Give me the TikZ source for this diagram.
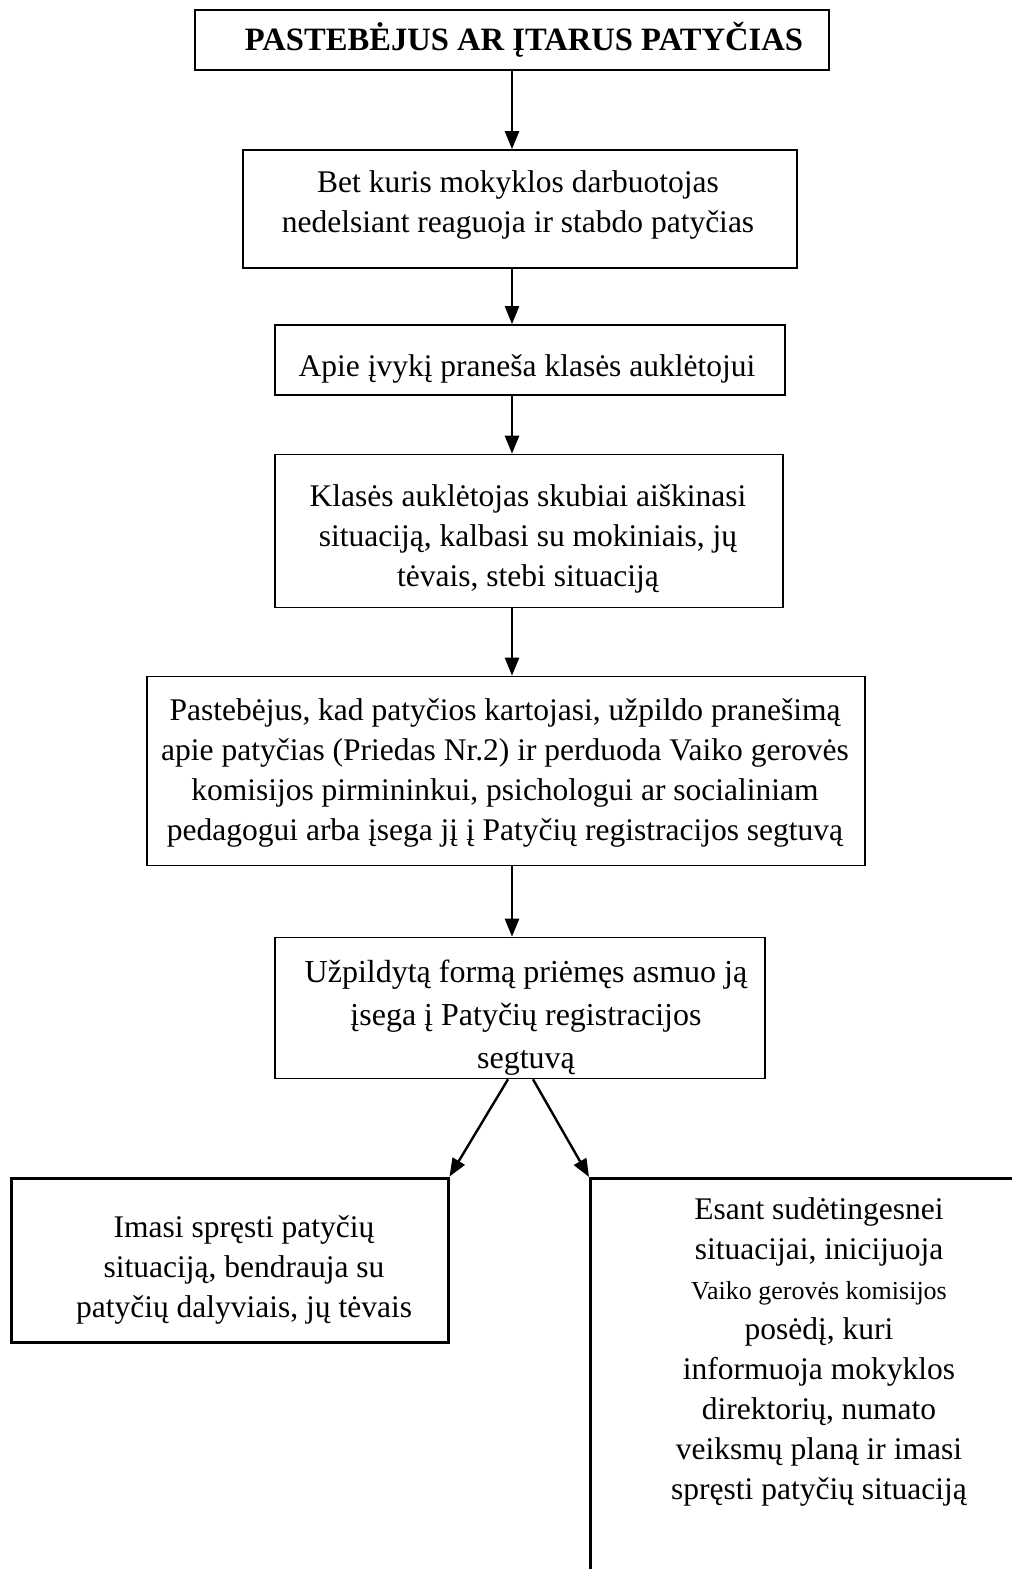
\documentclass[tikz,border=0pt]{standalone}
\usepackage{fontspec}
\setmainfont{Liberation Serif}
\usetikzlibrary{arrows.meta}
\begin{document}
\begin{tikzpicture}[x=1pt,y=-1pt,
  txt/.style={align=center, inner sep=0pt, font=\fontsize{31.5}{40}\selectfont},
  box/.style={txt, draw, line width=1.6pt},
  bbox/.style={txt, draw, line width=3pt},
  arr/.style={line width=2.4pt, -{Triangle[length=18pt,width=14pt]}}]
\useasboundingbox (0,0) rectangle (1012,1569);
\fill[white] (0,0) rectangle (1012,1569);
\clip (0,0) rectangle (1012,1569);
% boxes
\node[box, minimum width=634, minimum height=60] (t) at (512,40) {};
\node[box, minimum width=554, minimum height=118] (b2) at (520,209) {};
\node[box, minimum width=510, minimum height=70] (b3) at (530,360) {};
\node[box, minimum width=508, minimum height=153] (b4) at (529,531) {};
\node[box, minimum width=718, minimum height=189] (b5) at (506,771) {};
\node[box, minimum width=490, minimum height=141] (b6) at (520,1008) {};
\node[bbox, minimum width=437, minimum height=164] (l) at (229.5,1260) {};
\node[bbox, minimum width=520, minimum height=460, anchor=north west] (r) at (589,1177) {};
% texts
\node[txt, font=\bfseries\fontsize{32.6}{38}\selectfont] (tt) at (524,40) {PASTEBĖJUS AR ĮTARUS PATYČIAS};
\node[txt] (b2t) at (518,205) {Bet kuris mokyklos darbuotojas\\nedelsiant reaguoja ir stabdo patyčias};
\node[txt] (b3t) at (527,369) {Apie įvykį praneša klasės auklėtojui};
\node[txt] (b4t) at (528,539) {Klasės auklėtojas skubiai aiškinasi\\situaciją, kalbasi su mokiniais, jų\\tėvais, stebi situaciją};
\node[txt] (b5t) at (505,773) {Pastebėjus, kad patyčios kartojasi, užpildo pranešimą\\apie patyčias (Priedas Nr.2) ir perduoda Vaiko gerovės\\komisijos pirmininkui, psichologui ar socialiniam\\pedagogui arba įsega jį į Patyčių registracijos segtuvą};
\node[txt, font=\fontsize{32}{43}\selectfont] (b6t) at (526,1018) {Užpildytą formą priėmęs asmuo ją\\įsega į Patyčių registracijos\\segtuvą};
\node[txt] (lt) at (244,1270) {Imasi spręsti patyčių\\situaciją, bendrauja su\\patyčių dalyviais, jų tėvais};
\node[txt, anchor=north] (rt) at (819,1197) {Esant sudėtingesnei\\situacijai, inicijuoja\\{\fontsize{26}{36}\selectfont Vaiko gerovės komisijos}\\posėdį, kuri\\informuoja mokyklos\\direktorių, numato\\veiksmų planą ir imasi\\spręsti patyčių situaciją};
% connectors
\draw[arr] (t.south) -- (t.south |- b2.north);
\draw[arr] (t.south |- b2.south) -- (t.south |- b3.north);
\draw[arr] (t.south |- b3.south) -- (t.south |- b4.north);
\draw[arr] (t.south |- b4.south) -- (t.south |- b5.north);
\draw[arr] (t.south |- b5.south) -- (t.south |- b6.north);
\draw[arr] ([xshift=-12pt]b6.south) -- (l.north east);
\draw[arr] ([xshift=13pt]b6.south) -- (r.north west);
\end{tikzpicture}
\end{document}
